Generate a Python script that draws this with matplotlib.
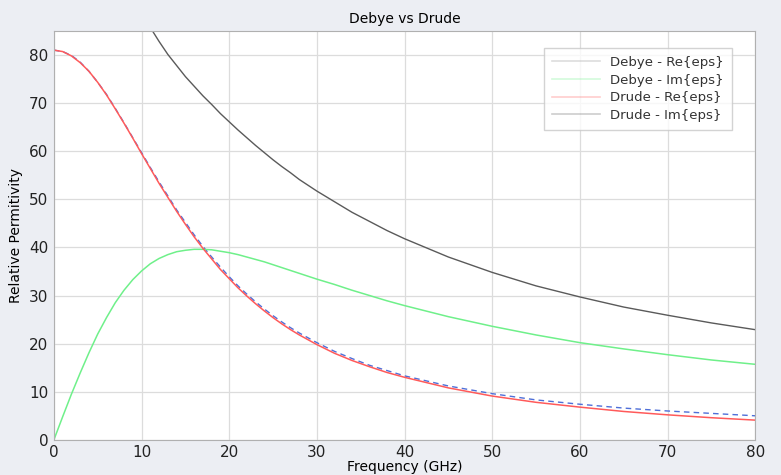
import numpy as np
import matplotlib
matplotlib.use("Agg")
import matplotlib.pyplot as plt
from matplotlib.lines import Line2D

# frequences (GHz)
freq = [0, 1, 2, 3, 4, 5, 6, 7, 8, 9, 10, 11, 12, 13, 14, 15, 16, 17, 18, 19,
        20, 21, 22, 23, 24, 25, 26, 27, 28, 29, 30, 32, 34, 36, 38, 40,
        45, 50, 55, 60, 65, 70, 75, 80]

debye_re = [81.0, 80.7, 79.9, 78.5, 76.6, 74.3, 71.8, 68.9, 65.9, 62.8, 59.7,
            56.6, 53.6, 50.7, 47.8, 45.2, 42.6, 40.2, 38.0, 35.9, 33.9, 32.0,
            30.3, 28.7, 27.2, 25.8, 24.5, 23.3, 22.2, 21.2, 20.2, 18.4, 16.9,
            15.5, 14.4, 13.3, 11.2, 9.6, 8.3, 7.4, 6.6, 6.0, 5.5, 5.0]
debye_im = [0.0, 4.8, 9.5, 13.9, 18.1, 22.0, 25.4, 28.5, 31.1, 33.3, 35.1,
            36.6, 37.7, 38.5, 39.1, 39.4, 39.6, 39.6, 39.5, 39.2, 38.9, 38.5,
            38.0, 37.5, 37.0, 36.4, 35.8, 35.2, 34.6, 34.0, 33.4, 32.3, 31.1,
            30.0, 28.9, 27.9, 25.6, 23.6, 21.8, 20.2, 18.9, 17.7, 16.6, 15.7]
drude_re = [81.0, 80.7, 79.8, 78.4, 76.6, 74.3, 71.7, 68.8, 65.8, 62.7, 59.5,
            56.4, 53.3, 50.4, 47.5, 44.8, 42.2, 39.8, 37.6, 35.4, 33.5, 31.6,
            29.9, 28.3, 26.8, 25.4, 24.1, 22.9, 21.8, 20.8, 19.8, 18.0, 16.5,
            15.2, 14.0, 13.0, 10.8, 9.1, 7.8, 6.8, 5.9, 5.2, 4.6, 4.1]

# la partie imaginaire de Drude sort du cadre en dessous de ~11 GHz
freq_im = [10, 11, 12, 13, 14, 15, 16, 17, 18, 19, 20, 21, 22, 23, 24, 25, 26,
           27, 28, 29, 30, 32, 34, 36, 38, 40, 45, 50, 55, 60, 65, 70, 75, 80]
drude_im = [89.1, 85.7, 82.8, 80.1, 77.8, 75.5, 73.5, 71.5, 69.7, 67.8, 66.1,
            64.4, 62.8, 61.2, 59.7, 58.2, 56.8, 55.5, 54.1, 52.9, 51.7, 49.5,
            47.3, 45.4, 43.5, 41.8, 38.0, 34.8, 32.0, 29.7, 27.6, 25.9, 24.3,
            22.9]

labels = ["Debye - Re{eps}", "Debye - Im{eps}", "Drude - Re{eps}", "Drude - Im{eps}"]
couleurs = ["#4f6fd8", "#6ff08a", "#ff5a5a", "#5a5a5a"]

fig = plt.figure(figsize=(7.81, 4.75), dpi=100, facecolor="#eceef3")
ax = fig.add_axes([0.069, 0.074, 0.898, 0.861])
ax.set_facecolor("white")

ax.plot(freq, debye_re, color=couleurs[0], lw=1.0, ls=(0, (4, 3)))
ax.plot(freq, debye_im, color=couleurs[1], lw=1.1)
ax.plot(freq, drude_re, color=couleurs[2], lw=1.1)
ax.plot(freq_im, drude_im, color=couleurs[3], lw=1.0)

ax.set_xlim(0, 80)
ax.set_ylim(0, 85)
ax.set_xticks(np.arange(0, 81, 10))
ax.set_yticks(np.arange(0, 81, 10))
ax.grid(True, color="#dcdcdc", lw=0.9)
ax.set_axisbelow(True)
ax.tick_params(length=0, labelsize=11, colors="#222222", pad=4)
for s in ax.spines.values():
    s.set_color("#b0b0b0")

ax.set_title("Debye vs Drude", fontsize=10, pad=6)
ax.set_xlabel("Frequency (GHz)", fontsize=10, labelpad=0)
ax.set_ylabel("Relative Permitivity", fontsize=10, labelpad=4)

# lignes de legende delavees comme sur l'original
poignees = [Line2D([], [], color=c, lw=1.2, alpha=0.3) for c in couleurs]
poignees[0] = Line2D([], [], color="#bbbbbb", lw=1.2, alpha=0.5)
leg = ax.legend(poignees, labels, loc="upper right", bbox_to_anchor=(0.976, 0.974),
                fontsize=9.5, frameon=True, fancybox=False, handlelength=3.6,
                labelspacing=0.35, borderpad=0.6, handletextpad=0.8)
leg.get_frame().set_edgecolor("#c8c8c8")
for t in leg.get_texts():
    t.set_color("#333333")

plt.savefig("out.png", dpi=100, facecolor=fig.get_facecolor())
